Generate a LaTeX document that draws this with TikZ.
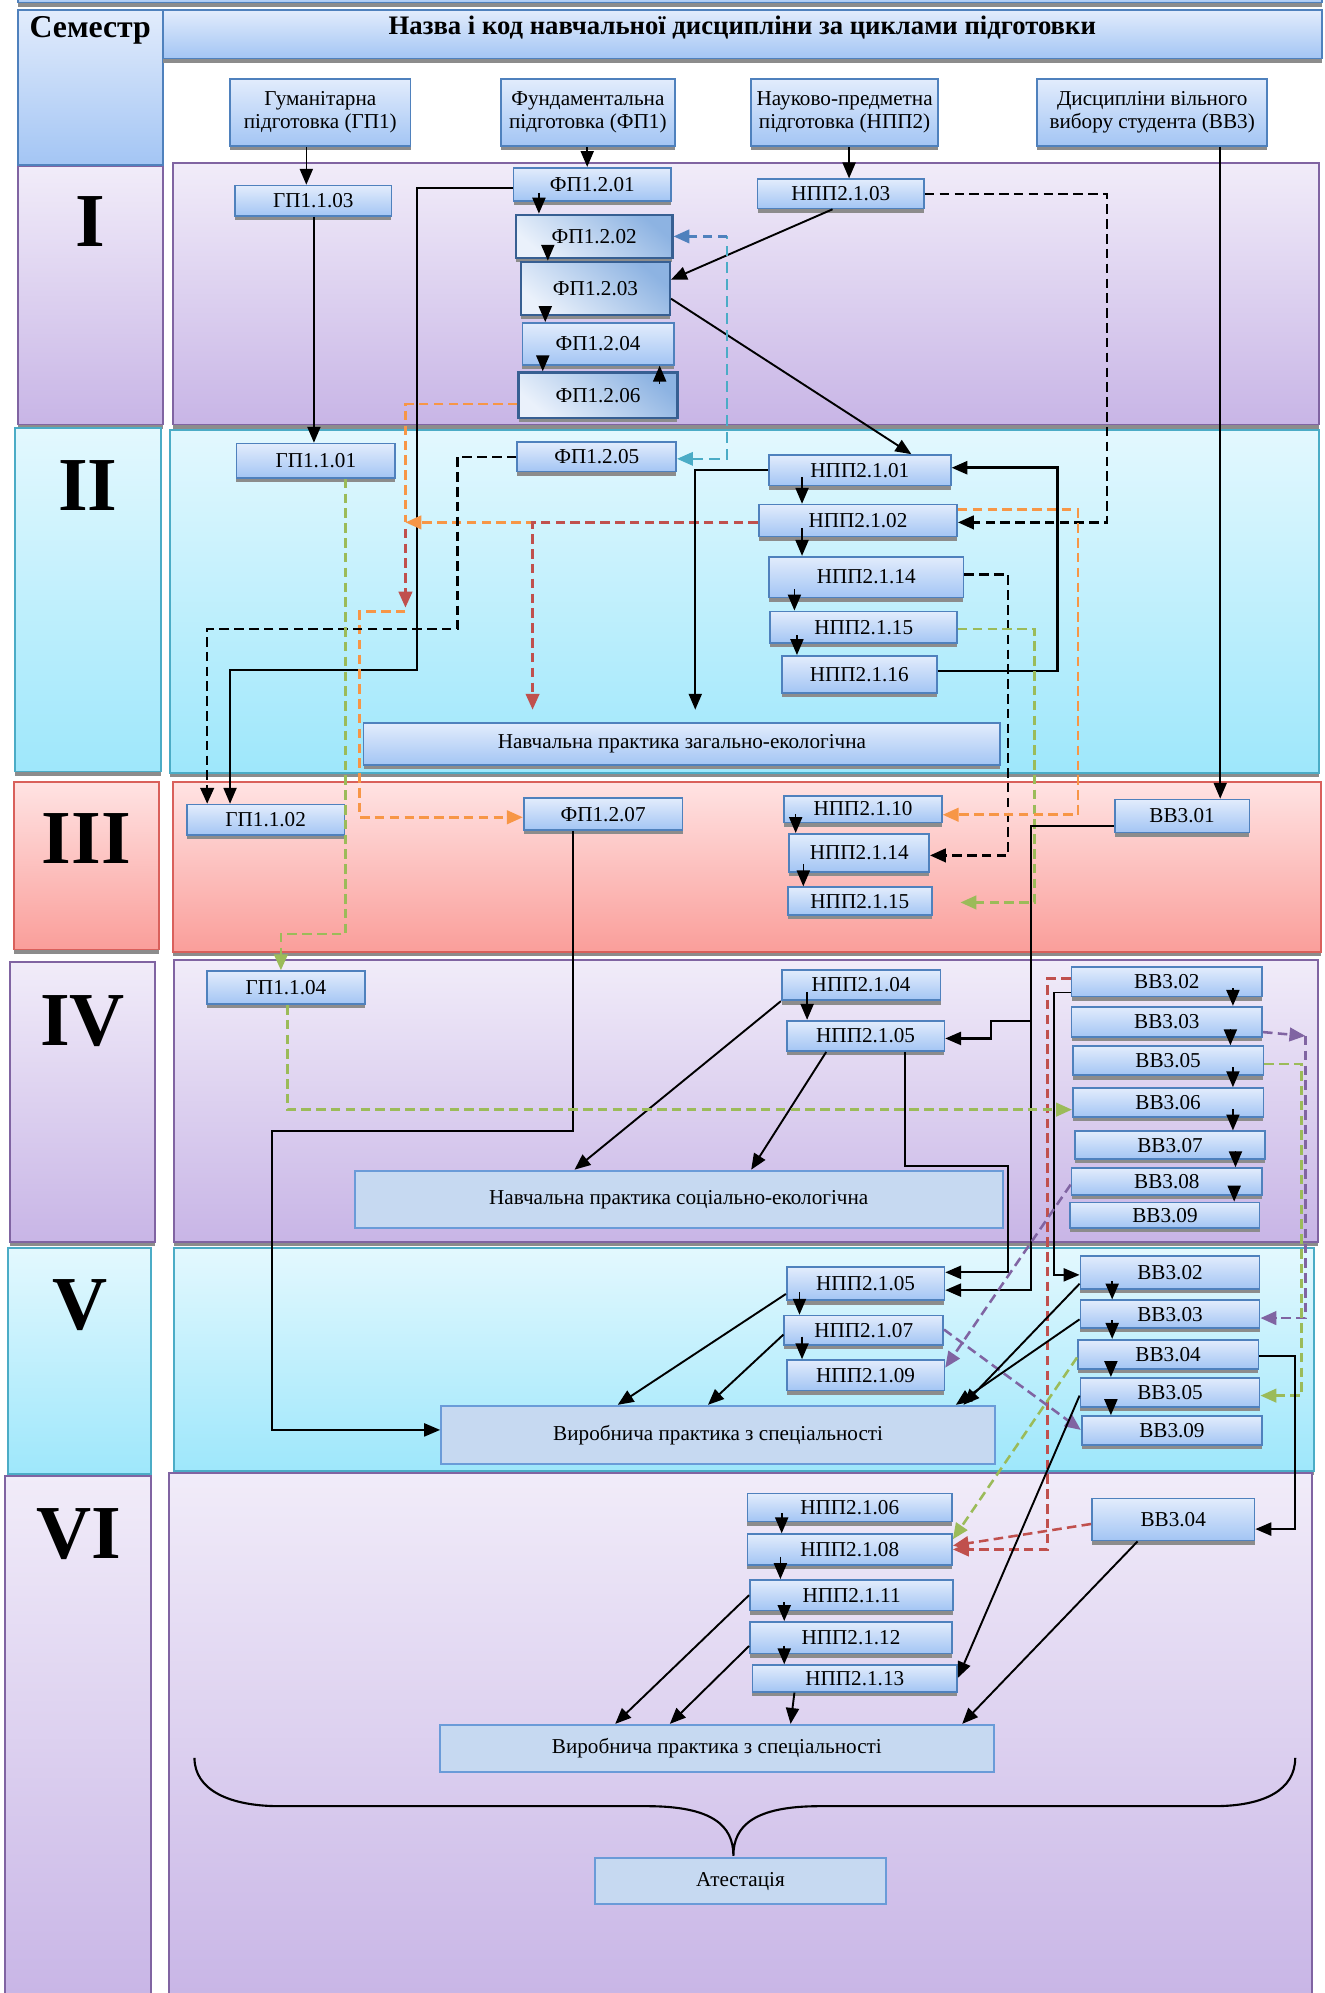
\documentclass[tikz,border=0pt]{standalone}
\usepackage{fontspec}
\setmainfont{Liberation Serif}
\usetikzlibrary{arrows.meta,calc,shadows}
\definecolor{bxtop}{HTML}{E2ECFC}
\definecolor{bxbot}{HTML}{A3C5F4}
\definecolor{bxline}{HTML}{4F81BD}
\definecolor{ibxdark}{HTML}{8DB3E2}
\definecolor{ibxlight}{HTML}{EAF1FB}
\definecolor{ibxline}{HTML}{375F92}
\definecolor{prfill}{HTML}{C6D9F1}
\definecolor{prline}{HTML}{6A9BD8}
\definecolor{pltop}{HTML}{F1ECF9}
\definecolor{plbot}{HTML}{C8B5E6}
\definecolor{plline}{HTML}{8064A2}
\definecolor{cytop}{HTML}{E3F8FE}
\definecolor{cybot}{HTML}{9EE7FB}
\definecolor{cyline}{HTML}{4BACC6}
\definecolor{pktop}{HTML}{FFE3E3}
\definecolor{pkbot}{HTML}{FA9E9A}
\definecolor{pkline}{HTML}{D9605B}
\definecolor{corange}{HTML}{F79646}
\definecolor{cred}{HTML}{C0504D}
\definecolor{cgreen}{HTML}{9BBB59}
\definecolor{cpurple}{HTML}{8064A2}
\definecolor{cteal}{HTML}{4BACC6}
\definecolor{cblue}{HTML}{4F81BD}
\newcommand\bx[7][]{\node[#1,minimum width={(#5-#3)*0.6pt},minimum height={(#6-#4)*0.6pt}] (#2) at ({(#3+#5)/2},{(#4+#6)/2}) {#7};}
\newcommand\stk[3]{\draw[arr] ($(#3,0 |- #1.south)+(0,-7)$) -- (#3,0 |- #2.north);}
\tikzset{
  shd/.style={drop shadow={shadow xshift=0pt,shadow yshift=-2pt,fill=black!45,opacity=1}},
  lbl/.style={font=\fontsize{10}{11}\selectfont},
  box/.style={draw=bxline,line width=0.8pt,top color=bxtop,bottom color=bxbot,shd,inner sep=0pt,align=center,lbl},
  ibox/.style={box,draw=ibxline,line width=1.1pt,top color=ibxdark,bottom color=ibxlight,shading angle=-40},
  pbox/.style={draw=prline,line width=0.9pt,fill=prfill,inner sep=0pt,align=center,lbl},
  prow/.style={draw=plline,line width=0.9pt,top color=pltop,bottom color=plbot,shd,inner sep=0pt},
  crow/.style={draw=cyline,line width=0.9pt,top color=cytop,bottom color=cybot,shd,inner sep=0pt},
  krow/.style={draw=pkline,line width=0.9pt,top color=pktop,bottom color=pkbot,shd,inner sep=0pt},
  numf/.style={font=\bfseries\fontsize{36}{36}\selectfont,inner sep=0pt},
  arr/.style={-{Triangle[length=7.5pt,width=6.2pt]},line width=0.75pt},
  dsh/.style={line width=1.2pt,dash pattern=on 4.5pt off 2.5pt,-{Triangle[length=7.5pt,width=6.4pt]}},
  kdash/.style={dsh,black},
  odash/.style={dsh,corange},
  rdash/.style={dsh,cred},
  gdash/.style={dsh,cgreen},
  pdash/.style={dsh,cpurple},
  tdash/.style={line width=0.8pt,cteal,dash pattern=on 5pt off 3pt},
  bdash/.style={dsh,cblue},
}
\begin{document}
\begin{tikzpicture}[x=0.6pt,y=-0.6pt]
\useasboundingbox (0,0) rectangle (1042,1568);
\fill[white] (0,0) rectangle (1042,1568);
% top bar and headers
\bx[box]{topbar}{14}{-6}{1040}{2}{}
\bx[box]{semh}{14}{8}{128}{130}{}
\node[font=\bfseries\fontsize{15}{17}\selectfont] (semt) at (71,24) {Семестр};
\bx[box]{hdr}{128}{8}{1040}{46}{}
\node[font=\bfseries\fontsize{12.6}{15}\selectfont] (hdrt) at (584,22) {Назва і код навчальної дисципліни за циклами підготовки};
\bx[box]{catGP}{181}{62}{323}{115}{Гуманітарна\\підготовка (ГП1)}
\bx[box]{catFP}{394}{62}{531}{115}{Фундаментальна\\підготовка (ФП1)}
\bx[box]{catNPP}{591}{62}{738}{115}{Науково-предметна\\підготовка (НПП2)}
\bx[box]{catVV}{816}{62}{997}{115}{Дисципліни вільного\\вибору студента (ВВ3)}
% semester rows
\bx[prow]{lI}{14}{131}{128}{334}{}
\bx[prow]{rI}{136}{128}{1038}{334}{}
\bx[crow]{lII}{12}{337}{127}{607}{}
\bx[crow]{rII}{134}{338}{1038}{608}{}
\bx[krow]{lIII}{11}{615}{125}{747}{}
\bx[krow]{rIII}{136}{615}{1039}{749}{}
\bx[prow]{lIV}{8}{757}{122}{977}{}
\bx[prow]{rIV}{137}{755}{1037}{977}{}
\bx[crow]{lV}{6}{982}{119}{1160}{}
\bx[crow]{rV}{137}{982}{1034}{1157}{}
\bx[prow]{lVI}{4}{1161}{119}{1575}{}
\bx[prow]{rVI}{133}{1159}{1032}{1575}{}
\node[numf] (nI) at (71,174) {I};
\node[numf] (nII) at (69,382) {II};
\node[numf] (nIII) at (68,660) {III};
\node[numf] (nIV) at (65,803) {IV};
\node[numf] (nV) at (63,1027) {V};
\node[numf] (nVI) at (62,1207) {VI};
% semester I
\bx[box]{gp103}{185}{146}{308}{170}{ГП1.1.03}
\bx[box]{fp201}{404}{132}{528}{158}{ФП1.2.01}
\bx[ibox]{fp202}{406}{169}{529}{203}{ФП1.2.02}
\bx[ibox]{fp203}{410}{206}{527}{248}{ФП1.2.03}
\bx[box]{fp204}{411}{254}{530}{287}{ФП1.2.04}
\bx[ibox]{fp206}{408}{293}{533}{329}{ФП1.2.06}
\bx[box]{npp103}{596}{141}{727}{164}{НПП2.1.03}
% semester II
\bx[box]{gp101}{186}{349}{311}{376}{ГП1.1.01}
\bx[box]{fp205}{407}{348}{532}{371}{ФП1.2.05}
\bx[box]{npp201}{605}{358}{748}{382}{НПП2.1.01}
\bx[box]{npp202}{597}{397}{753}{422}{НПП2.1.02}
\bx[box]{npp214}{605}{438}{758}{470}{НПП2.1.14}
\bx[box]{npp215}{606}{481}{753}{506}{НПП2.1.15}
\bx[box]{npp216}{615}{516}{737}{545}{НПП2.1.16}
\bx[box]{nprac1}{286}{569}{787}{602}{Навчальна практика загально-екологічна}
% semester III
\bx[box]{gp102}{147}{633}{271}{657}{ГП1.1.02}
\bx[box]{fp207}{412}{628}{537}{653}{ФП1.2.07}
\bx[box]{npp210}{617}{626}{741}{647}{НПП2.1.10}
\bx[box]{npp214b}{621}{656}{731}{686}{НПП2.1.14}
\bx[box]{npp215b}{620}{698}{733}{720}{НПП2.1.15}
\bx[box]{vv301}{877}{629}{983}{655}{ВВ3.01}
% semester IV
\bx[box]{gp104}{163}{764}{287}{790}{ГП1.1.04}
\bx[box]{npp204}{615}{763}{740}{787}{НПП2.1.04}
\bx[box]{npp205}{619}{803}{743}{827}{НПП2.1.05}
\bx[box]{vv302}{843}{761}{993}{784}{ВВ3.02}
\bx[box]{vv303}{843}{792}{993}{816}{ВВ3.03}
\bx[box]{vv305}{844}{823}{994}{846}{ВВ3.05}
\bx[box]{vv306}{844}{856}{994}{879}{ВВ3.06}
\bx[box]{vv307}{846}{890}{995}{912}{ВВ3.07}
\bx[box]{vv308}{843}{919}{993}{940}{ВВ3.08}
\bx[box]{vv309}{842}{946}{991}{966}{ВВ3.09}
\bx[pbox]{sprac}{279}{921}{789}{966}{Навчальна практика соціально-екологічна}
% semester V
\bx[box]{npp205b}{619}{997}{743}{1023}{НПП2.1.05}
\bx[box]{npp207}{617}{1035}{742}{1058}{НПП2.1.07}
\bx[box]{npp209}{619}{1070}{743}{1094}{НПП2.1.09}
\bx[box]{vv302b}{850}{988}{991}{1014}{ВВ3.02}
\bx[box]{vv303b}{850}{1023}{991}{1045}{ВВ3.03}
\bx[box]{vv304b}{848}{1054}{990}{1077}{ВВ3.04}
\bx[box]{vv305b}{850}{1084}{991}{1107}{ВВ3.05}
\bx[box]{vv309b}{851}{1114}{993}{1137}{ВВ3.09}
\bx[pbox]{vprac1}{347}{1106}{783}{1152}{Виробнича практика з спеціальності}
% semester VI
\bx[box]{npp206}{588}{1175}{749}{1197}{НПП2.1.06}
\bx[box]{npp208}{588}{1207}{749}{1231}{НПП2.1.08}
\bx[box]{npp211}{590}{1243}{750}{1267}{НПП2.1.11}
\bx[box]{npp212}{590}{1276}{749}{1301}{НПП2.1.12}
\bx[box]{npp213}{592}{1310}{753}{1331}{НПП2.1.13}
\bx[box]{vv304c}{859}{1179}{987}{1212}{ВВ3.04}
\bx[pbox]{vprac2}{346}{1357}{782}{1394}{Виробнича практика з спеціальності}
\bx[pbox]{att}{468}{1462}{697}{1498}{Атестація}
% ---------- connectors ----------
\draw[arr] (241,0 |- catGP.south) -- (241,0 |- gp103.north);
\draw[arr] (462,0 |- catFP.south) -- (462,0 |- fp201.north);
\draw[arr] (668,0 |- catNPP.south) -- (668,0 |- npp103.north);
\draw[arr] (960,0 |- catVV.south) -- (960,0 |- vv301.north);
% I
\draw[arr] (247,0 |- gp103.south) -- (247,0 |- gp101.north);
\draw[arr] (fp201.west |- 0,148) -| (328,527) -| (181,0 |- gp102.north);
\stk{fp201}{fp202}{424}
\stk{fp202}{fp203}{431}
\stk{fp203}{fp204}{429}
\stk{fp204}{fp206}{427}
\draw[arr] ($(519,0 |- fp206.north)+(0,10)$) -- (519,0 |- fp204.south);
\draw[arr,line width=0.9pt] (655,0 |- npp103.south) -- (fp203.east |- 0,220);
\draw[arr,line width=0.9pt] (fp203.east |- 0,235) -- (717,0 |- npp201.north);
\draw[kdash] (npp103.east) -| (871,411) -- (npp202.east |- 0,411);
\coordinate (tb) at (572,186);
\draw[tdash,{Triangle[length=7.5pt,width=6.4pt]}-] (fp205.east |- 0,361) -| (tb);
\draw[bdash] (tb) -- (fp202.east);
% II
\draw[odash,-] (fp206.west |- 0,318) -| (319,411);
\draw[odash] (npp202.west |- 0,411) -- (319,411);
\draw[rdash] (npp202.west |- 0,411) -| ($(419,0 |- nprac1.north)+(0,-10)$);
\draw[rdash] (319,416) -- (319,478);
\draw[odash] (319,481) -| (283,643) -- (fp207.west |- 0,643);
\draw[kdash] (fp205.west) -| (360,495) -| (163,0 |- gp102.north);
\draw[arr] (npp201.west) -| ($(547,0 |- nprac1.north)+(0,-10)$);
\draw[arr,line width=1.2pt] (npp216.east |- 0,528) -| (832,368) -- (npp201.east |- 0,368);
\stk{npp201}{npp202}{631}
\stk{npp202}{npp214}{631}
\stk{npp214}{npp215}{625}
\stk{npp215}{npp216}{627}
\draw[kdash] (npp214.east |- 0,452) -| (793,673) -- (npp214b.east |- 0,673);
\draw[gdash] (npp215.east |- 0,495) -| (814,710) -- ($(npp215b.east |- 0,710)+(22,0)$);
\draw[odash] (npp202.east |- 0,401) -| (848,641) -- (npp210.east |- 0,641);
\draw[gdash] (272,0 |- gp101.south) -- (272,735) -| (221,0 |- gp104.north);
% III
\stk{npp210}{npp214b}{626}
\stk{npp214b}{npp215b}{632}
\draw[arr,line width=1pt] (vv301.west |- 0,650) -| (811,1015) -- (npp205b.east |- 0,1015);
\draw[arr,line width=1pt] (811,803) -| (780,817) -- (npp205.east |- 0,817);
\draw[arr] (451,0 |- fp207.south) |- (214,890) |- (vprac1.west |- 0,1125);
% IV
\stk{npp204}{npp205}{635}
\draw[arr,line width=0.9pt] (npp204.south west) -- (452,0 |- sprac.north);
\draw[arr,line width=0.9pt] (650,0 |- npp205.south) -- (591,0 |- sprac.north);
\draw[arr,line width=1pt] (712,0 |- npp205.south) |- (793,917) |- (npp205b.east |- 0,1001);
\draw[arr] (vv302.west |- 0,781) -| (829,1003) -- (vv302b.west |- 0,1003);
\draw[rdash] (vv302.west |- 0,770) -| (824,1219) -- (npp208.east |- 0,1219);
\stk{vv302}{vv303}{970}
\stk{vv303}{vv305}{968}
\stk{vv305}{vv306}{970}
\stk{vv306}{vv307}{970}
\stk{vv307}{vv308}{972}
\stk{vv308}{vv309}{971}
\draw[gdash] (226,0 |- gp104.south) |- (vv306.west |- 0,873);
\draw[pdash] (vv303.east |- 0,812) -- (1027,815);
\draw[pdash] (1027,815) |- (vv303b.east |- 0,1037);
\draw[gdash] (vv305.east |- 0,837) -| (1024,1098) -- (vv305b.east |- 0,1098);
\draw[pdash] (vv308.west |- 0,932) -- (npp209.east |- 0,1076);
\draw[pdash] (npp207.east |- 0,1046) -- (vv309b.west |- 0,1125);
% V
\stk{npp205b}{npp207}{629}
\stk{npp207}{npp209}{631}
\stk{vv302b}{vv303b}{875}
\stk{vv303b}{vv304b}{875}
\stk{vv304b}{vv305b}{874}
\stk{vv305b}{vv309b}{874}
\draw[arr,line width=0.9pt] (npp205b.west |- 0,1018) -- (486,0 |- vprac1.north);
\draw[arr,line width=0.9pt] (npp207.west |- 0,1050) -- (557,0 |- vprac1.north);
\draw[arr,line width=0.9pt] (vv302b.west |- 0,1010) -- (758,0 |- vprac1.north);
\draw[arr,line width=0.9pt] (vv303b.west |- 0,1038) -- (752,0 |- vprac1.north);
\draw[arr,line width=0.9pt] (vv304b.east |- 0,1067) -| (1019,1203) -- (vv304c.east |- 0,1203);
\draw[arr,line width=0.9pt] (vv305b.west |- 0,1098) -- (npp213.east |- 0,1320);
\draw[gdash] (vv304b.west |- 0,1068) -- (npp208.east |- 0,1211);
% VI
\draw[rdash] (vv304c.west |- 0,1199) -- (npp208.east |- 0,1216);
\stk{npp206}{npp208}{615}
\stk{npp208}{npp211}{614}
\stk{npp211}{npp212}{617}
\stk{npp212}{npp213}{617}
\draw[arr,line width=0.9pt] (npp211.west |- 0,1255) -- (484,0 |- vprac2.north);
\draw[arr,line width=0.9pt] (npp212.west |- 0,1295) -- (527,0 |- vprac2.north);
\draw[arr,line width=0.9pt] (625,0 |- npp213.south) -- (622,0 |- vprac2.north);
\draw[arr,line width=0.9pt] (895,0 |- vv304c.south) -- (757,0 |- vprac2.north);
% brace
\draw[line width=1pt] (153,1383) .. controls (153,1408) and (180,1421) .. (220,1421) -- (509,1421)
  .. controls (560,1421) and (577,1436) .. (577,1460)
  .. controls (577,1436) and (594,1421) .. (645,1421) -- (955,1421)
  .. controls (995,1421) and (1019,1408) .. (1019,1383);
\end{tikzpicture}
\end{document}
